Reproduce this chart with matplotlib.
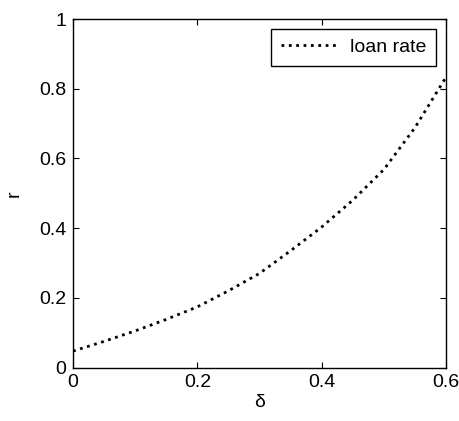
import matplotlib.pyplot as plt

plt.rcParams['font.family'] = ['Liberation Sans', 'DejaVu Sans']

delta = [0.0, 0.05, 0.1, 0.15, 0.2, 0.25, 0.3, 0.35, 0.4, 0.45, 0.5, 0.55, 0.6]
loan_rate = [0.047, 0.075, 0.105, 0.138, 0.174, 0.22, 0.27, 0.335, 0.403, 0.48, 0.568, 0.688, 0.833]

fig = plt.figure(figsize=(4.59, 4.21), dpi=100)
ax = fig.add_axes([73/459, 1 - 367.5/421, 373/459, 348.5/421])

ax.plot(delta, loan_rate, color='black', linestyle=':', linewidth=2, label='loan rate')

ax.set_xlim(0, 0.6)
ax.set_ylim(0, 1)
ax.set_xticks([0, 0.2, 0.4, 0.6])
ax.set_xticklabels(['0', '0.2', '0.4', '0.6'])
ax.set_yticks([0, 0.2, 0.4, 0.6, 0.8, 1])
ax.set_yticklabels(['0', '0.2', '0.4', '0.6', '0.8', '1'])
ax.tick_params(direction='in', top=True, right=True, labelsize=14, length=4, pad=5)
for s in ax.spines.values():
    s.set_linewidth(1)

ax.set_xlabel('δ', fontsize=14, labelpad=2)
ax.set_ylabel('r', fontsize=14, labelpad=12)

leg = ax.legend(loc='upper right', fontsize=14, fancybox=False, framealpha=1,
                edgecolor='black', handlelength=2.8, handletextpad=0.75,
                borderpad=0.5, borderaxespad=0.5)
leg.get_frame().set_linewidth(1)

fig.savefig('out.png', dpi=100)
